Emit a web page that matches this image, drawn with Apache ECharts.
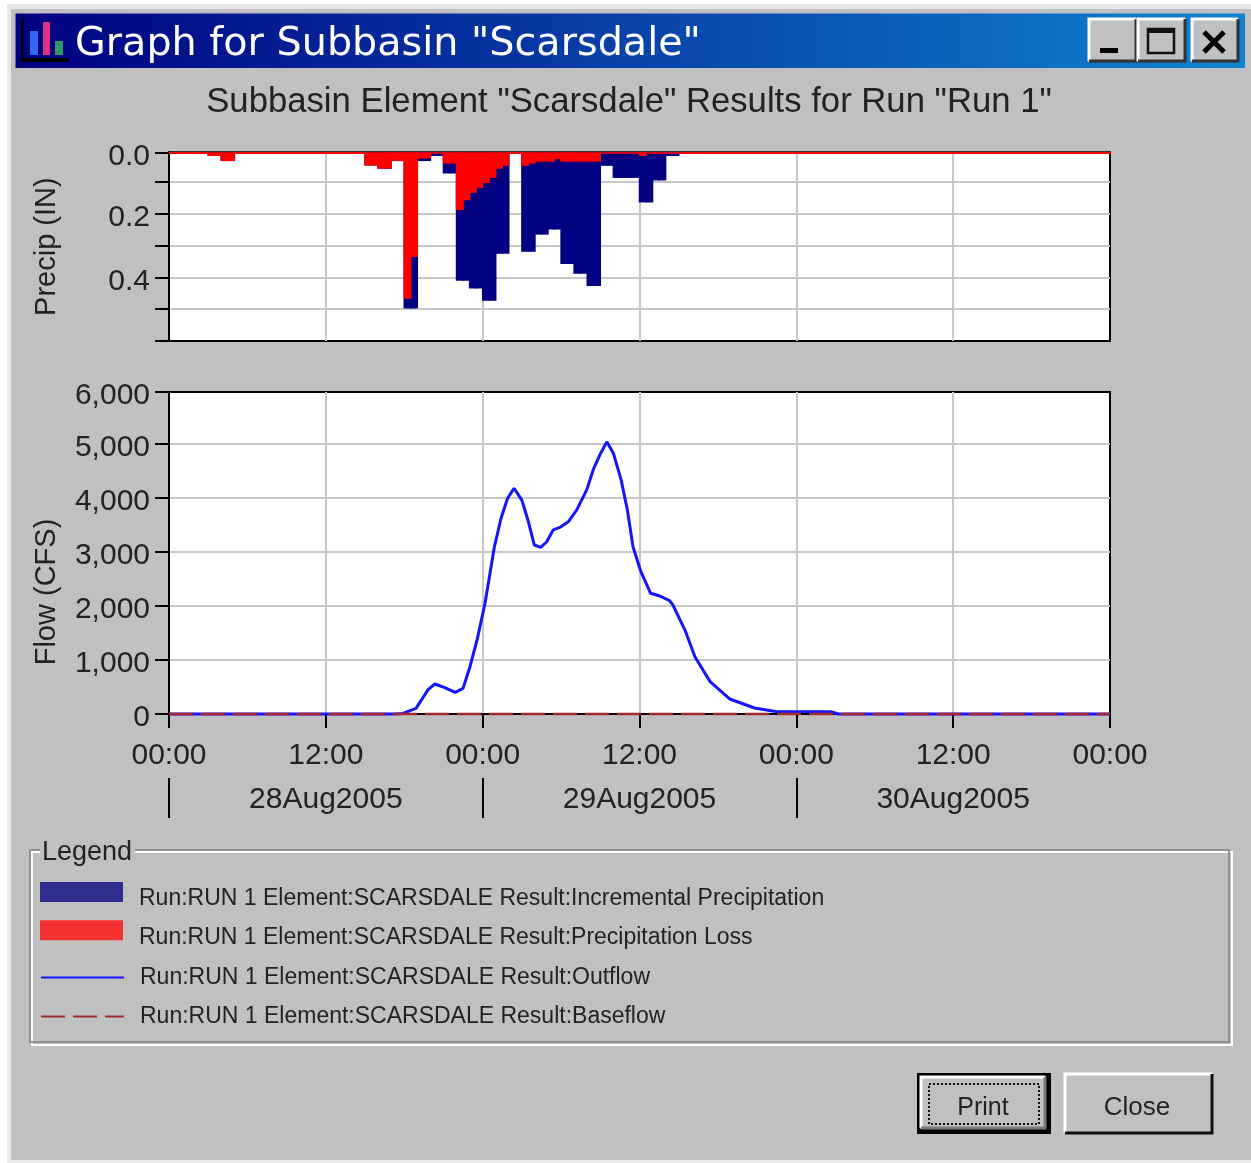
<!DOCTYPE html>
<html><head><meta charset="utf-8">
<style>
html,body{margin:0;padding:0;background:#fff;overflow:hidden}
#a{position:absolute;left:7px;top:4px;width:1244px;height:1159px;background:#e8e8e8}
#b{position:absolute;left:11px;top:9px;width:1240px;height:1151px;background:#c0c0c0}
#c{position:absolute;left:0;top:0;width:1251px;height:1163px}
</style>
<script src="https://cdn.jsdelivr.net/npm/echarts@6/dist/echarts.min.js"></script>
</head><body><div id="a"></div><div id="b"></div><div id="c"></div>
<script>
const precipName='Run:RUN 1 Element:SCARSDALE Result:Incremental Precipitation';
const lossName='Run:RUN 1 Element:SCARSDALE Result:Precipitation Loss';
const outflowName='Run:RUN 1 Element:SCARSDALE Result:Outflow';
const baseflowName='Run:RUN 1 Element:SCARSDALE Result:Baseflow';
const windowTitle='Graph for Subbasin "Scarsdale"';
const chartTitle='Subbasin Element "Scarsdale" Results for Run "Run 1"';
const dateLabels=['28Aug2005','29Aug2005','30Aug2005'];
// incremental precipitation, inches per hour, hours 0..71
const precipHourly=[0,0,0,.019,.035,0,0,0,0,0,0,0,0,0,0,.049,.059,.035,.498,.035,.019,.074,.411,.435,.474,.326,0,.320,.266,.25,.358,.389,.427,.05,.088,.088,.165,.096,.019,0,0,0,0,0,0,0,0,0,0,0,0,0,0,0,0,0,0,0,0,0,0,0,0,0,0,0,0,0,0,0,0,0];
// precipitation loss, inches, half-hour slots 0..143
const lossHalfHourly=[0,0,0,0,0,0,.019,.019,.035,.035,
0,0,0,0,0,0,0,0,0,0,0,0,0,0,0,0,0,0,0,0,
.049,.049,.059,.059,.035,.035,.467,.336,.027,.027,.012,.012,.043,.043,
.189,.158,.135,.119,.104,.088,.059,.050,0,0,.050,.043,.037,.037,.037,.029,
.037,.037,.037,.037,.037,.037,.012,.012,.012,.012,.012,.012,.019,.012,.012,.012,.012,.012,
0,0,0,0,0,0,0,0,0,0,0,0,0,0,0,0,0,0,0,0,0,0,0,0,0,0,0,0,0,0,0,0,0,0,0,0,0,0,0,0,0,0,0,0,0,0,0,0,0,0,0,0,0,0,0,0,0,0,0,0,0,0,0,0,0,0,0,0,0,0,0,0];
const flowHours=[0,17.2,17.9,18.9,19.84,20.35,21.1,21.9,22.5,23.03,23.6,24.18,24.9,25.4,25.9,26.4,27,27.5,27.95,28.44,28.9,29.4,29.9,30.55,31.2,31.96,32.5,33.03,33.5,34,34.6,35.07,35.5,36.1,36.85,37.55,38.3,38.56,39.48,40.24,41.4,42.9,44.8,46.4,50.7,51.2,72];
const flowValues=[0,0,10,105,457,555,488,400,475,876,1400,2050,3100,3620,3990,4180,3960,3560,3130,3086,3190,3410,3456,3560,3780,4150,4550,4830,5040,4830,4330,3780,3100,2640,2235,2185,2100,2018,1555,1060,600,278,111,45,40,0,0];
const baseHours=[0,72];
const baseValues=[0,0];
const precipTicks=[.0075,.1,.2,.3,.4,.5,.6];
const flowTicks=[0,1000,2000,3000,4000,5000,5963];

const slots=precipHourly.flatMap((_,h)=>[h+':00',h+':30']);
const precipSlots=precipHourly.flatMap(v=>[v,v]);
const FONT='"Liberation Sans",Arial,sans-serif';
const ink='#222';
const gridLine={show:true,showMinLine:false,showMaxLine:false,lineStyle:{color:'#c8c8c8',width:2}};

function bevel(x,y,w,h,hi,lo){return [
 {type:'rect',shape:{x,y,width:w,height:h},style:{fill:'#c0c0c0'}},
 {type:'polyline',shape:{points:[[x+1,y+h-1],[x+1,y+1],[x+w-1,y+1]]},style:{stroke:hi,lineWidth:3,fill:null}},
 {type:'polyline',shape:{points:[[x+w-1,y+1],[x+w-1,y+h-1],[x+1,y+h-1]]},style:{stroke:lo,lineWidth:3,fill:null}}];}
const rect=(x,y,w,h,fill)=>({type:'rect',shape:{x,y,width:w,height:h},style:{fill}});
const txt=(x,y,text,size,fill,align,fam)=>({type:'text',x,y,style:{text,font:size+'px '+(fam||FONT),fill:fill||ink,textAlign:align||'center',textVerticalAlign:'middle'}});
const line=(x1,y1,x2,y2,c,w,dash)=>({type:'line',shape:{x1,y1,x2,y2},style:{stroke:c,lineWidth:w,lineDash:dash}});

const chrome=[
 {type:'rect',shape:{x:15.5,y:13.5,width:1229.5,height:54.5},style:{fill:new echarts.graphic.LinearGradient(0,0,1,0,[{offset:0,color:'#000080'},{offset:1,color:'#1084d0'}])}},
 rect(30,31,8,24,'#3366ee'),rect(43,22,7,33,'#e0307f'),rect(55,41,8,14,'#339966'),
 rect(21,19,2.5,43,'#000'),rect(21,58,48,4,'#000'),
 txt(75,45,windowTitle,39.7,'#fff','left','"DejaVu Sans"'),
 ...bevel(1088,18,49,44,'#fff','#333'),rect(1100,48,18,5,'#000'),
 ...bevel(1137,18,49,44,'#fff','#333'),
 {type:'rect',shape:{x:1148,y:29,width:26,height:24},style:{fill:null,stroke:'#111',lineWidth:2.5}},rect(1147,28,28,5,'#111'),
 ...bevel(1191,18,48,44,'#fff','#333'),
 line(1204,32,1224,52,'#000',5),line(1224,32,1204,52,'#000',5),
 // legend etched box
 {type:'rect',shape:{x:32,y:852,width:1200,height:193},style:{fill:null,stroke:'#fff',lineWidth:2}},
 {type:'rect',shape:{x:30,y:850,width:1199,height:192},style:{fill:null,stroke:'#919191',lineWidth:2}},
 rect(40,845,95,12,'#c0c0c0'),
 txt(42,853,'Legend',27,ink,'left'),
 // buttons
 rect(917,1073,134,61,'#000'),
 ...bevel(920,1076,126,53,'#fff','#7a7a7a'),
 {type:'rect',shape:{x:929,y:1084,width:110,height:40},style:{fill:null,stroke:'#111',lineWidth:2,lineDash:[2,2]}},
 txt(983,1108,'Print',25),
 ...bevel(1064,1073,149,61,'#fff','#111'),
 txt(1137,1108,'Close',26)
];
const rectIcon='path://M0,0 L83,0 L83,20 L0,20 Z M0,34 L0,34 Z';

const chart=echarts.init(document.getElementById('c'),null,{renderer:'canvas'});
chart.setOption({
 backgroundColor:'transparent',animation:false,
 textStyle:{fontFamily:FONT,color:ink},
 title:{text:chartTitle,left:624,top:80,textAlign:'center',textStyle:{fontFamily:FONT,fontSize:34.7,fontWeight:'normal',color:ink}},
 grid:[
  {left:169,top:152.3,width:941,height:188.7,show:true,backgroundColor:'#fff',borderColor:'#000',borderWidth:2},
  {left:169,top:392,width:941,height:322,show:true,backgroundColor:'#fff',borderColor:'#000',borderWidth:2}
 ],
 xAxis:[
  {type:'category',gridIndex:0,data:slots,position:'top',boundaryGap:true,
   axisLine:{onZero:false,lineStyle:{color:'#f00',width:2}},axisTick:{show:false},axisLabel:{show:false},
   splitLine:{show:true,showMinLine:false,showMaxLine:false,interval:i=>i%24===0,lineStyle:{color:'#c8c8c8',width:2}}},
  {type:'value',gridIndex:1,min:0,max:72,interval:12,position:'bottom',
   axisLine:{onZero:false,lineStyle:{color:'#000',width:2}},
   axisTick:{show:true,length:14,lineStyle:{color:'#000',width:2}},
   axisLabel:{fontSize:30,color:ink,margin:27,showMinLabel:true,showMaxLabel:true,formatter:v=>v%24===0?'00:00':'12:00'},
   splitLine:gridLine},
  {type:'value',gridIndex:1,min:0,max:72,position:'bottom',offset:64,
   axisLine:{show:true,onZero:false,lineStyle:{color:'rgba(0,0,0,0)',width:0}},splitLine:{show:false},
   axisTick:{show:true,length:40,customValues:[0,24,48],lineStyle:{color:'#000',width:2}},
   axisLabel:{fontSize:30,color:ink,margin:7,customValues:[12,36,60],formatter:v=>dateLabels[(v-12)/24]}}
 ],
 yAxis:[
  {type:'value',gridIndex:0,inverse:true,min:.0075,max:.6,name:'Precip (IN)',nameLocation:'middle',nameGap:108,nameRotate:90,
   nameTextStyle:{fontSize:29,color:ink},
   axisLine:{show:true,onZero:false,lineStyle:{color:'#000',width:2}},
   axisTick:{show:true,length:14,customValues:precipTicks,lineStyle:{color:'#000',width:2}},
   axisLabel:{fontSize:30,color:ink,margin:19,customValues:[.0075,.2,.4],verticalAlign:'top',lineHeight:8,formatter:v=>(Math.round(v*10)/10).toFixed(1)},
   splitLine:gridLine},
  {type:'value',gridIndex:1,min:0,max:5963,name:'Flow (CFS)',nameLocation:'middle',nameGap:108,nameRotate:90,
   nameTextStyle:{fontSize:29,color:ink,padding:[0,78,0,0]},
   axisLine:{show:true,onZero:false,lineStyle:{color:'#000',width:2}},
   axisTick:{show:true,length:14,customValues:flowTicks,lineStyle:{color:'#000',width:2}},
   axisLabel:{fontSize:30,color:ink,margin:19,customValues:flowTicks,verticalAlign:'top',lineHeight:8,formatter:v=>(Math.round(v/1000)*1000).toLocaleString('en-US')},
   splitLine:gridLine}
 ],
 legend:[
  {orient:'vertical',left:40,top:882,padding:0,itemWidth:83,itemHeight:34,itemGap:4.3,
   textStyle:{fontSize:23,color:ink,fontFamily:FONT,padding:[0,0,0,11]},
   data:[{name:precipName,icon:rectIcon,itemStyle:{color:'#2e2e8e',borderWidth:0}},{name:lossName,icon:rectIcon,itemStyle:{color:'#f53030',borderWidth:0}}]},
  {orient:'vertical',left:40,top:966,padding:0,itemWidth:83,itemHeight:14,itemGap:16,itemStyle:{opacity:0},
   textStyle:{fontSize:23,color:ink,fontFamily:FONT,padding:[0,0,0,11]},
   data:[outflowName,baseflowName]}
 ],
 series:[
  {name:precipName,type:'bar',xAxisIndex:0,yAxisIndex:0,data:precipSlots,barWidth:8,barGap:'-100%',itemStyle:{color:'#000080'},silent:true},
  {name:lossName,type:'bar',xAxisIndex:0,yAxisIndex:0,data:lossHalfHourly,barWidth:8,barGap:'-100%',itemStyle:{color:'#ff0000'},silent:true},
  {name:outflowName,type:'line',xAxisIndex:1,yAxisIndex:1,symbol:'none',data:flowHours.map((h,i)=>[h,flowValues[i]]),lineStyle:{color:'#1414ff',width:3},itemStyle:{color:'#1414ff'},clip:false},
  {name:baseflowName,type:'line',xAxisIndex:1,yAxisIndex:1,symbol:'none',data:baseHours.map((h,i)=>[h,baseValues[i]]),lineStyle:{color:'#a52a2a',width:2.5,type:[24,8]},itemStyle:{color:'#a52a2a'},clip:false}
 ],
 graphic:{elements:chrome.map(e=>Object.assign({silent:true},e))}
});
</script></body></html>
